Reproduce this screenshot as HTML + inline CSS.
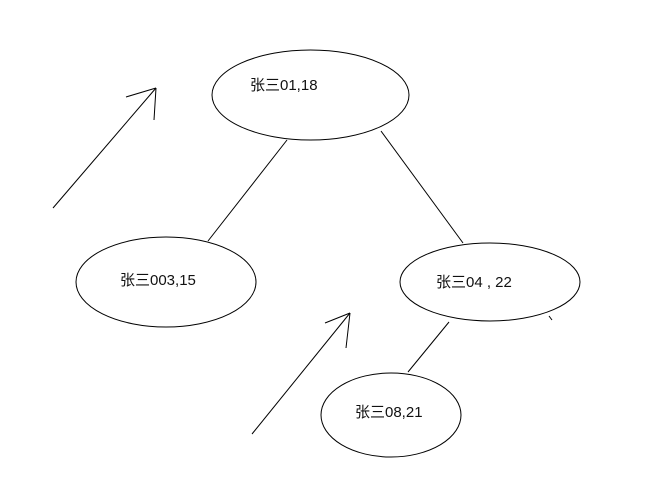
<!DOCTYPE html>
<html><head><meta charset="utf-8"><style>
html,body{margin:0;padding:0;background:#fff;width:651px;height:479px;overflow:hidden}
text{font-family:"Liberation Sans","Noto Sans CJK SC",sans-serif;font-size:15px;fill:#111}
</style></head><body>
<svg width="651" height="479" viewBox="0 0 651 479" xmlns="http://www.w3.org/2000/svg">
<g fill="none" stroke="#000" stroke-width="1">
<ellipse cx="310.5" cy="95" rx="98.5" ry="45"/>
<ellipse cx="166" cy="282" rx="90" ry="45"/>
<ellipse cx="490" cy="282" rx="90" ry="39"/>
<ellipse cx="391" cy="415" rx="70" ry="42"/>
<line x1="287" y1="140" x2="208" y2="241"/>
<line x1="381" y1="131" x2="463" y2="243"/>
<line x1="449" y1="322" x2="408" y2="372"/>
<line x1="549" y1="316" x2="552" y2="320"/>
<line x1="53" y1="208" x2="156" y2="88"/>
<line x1="126" y1="97" x2="156" y2="88"/>
<line x1="156" y1="88" x2="154" y2="120"/>
<line x1="252" y1="434" x2="350" y2="313"/>
<line x1="325" y1="323" x2="350" y2="313"/>
<line x1="350" y1="313" x2="346" y2="348"/>
</g>
<text x="250" y="90">张三01,18</text>
<text x="120" y="285">张三003,15</text>
<text x="436" y="287">张三04 , 22</text>
<text x="355" y="417">张三08,21</text>
</svg>
</body></html>
